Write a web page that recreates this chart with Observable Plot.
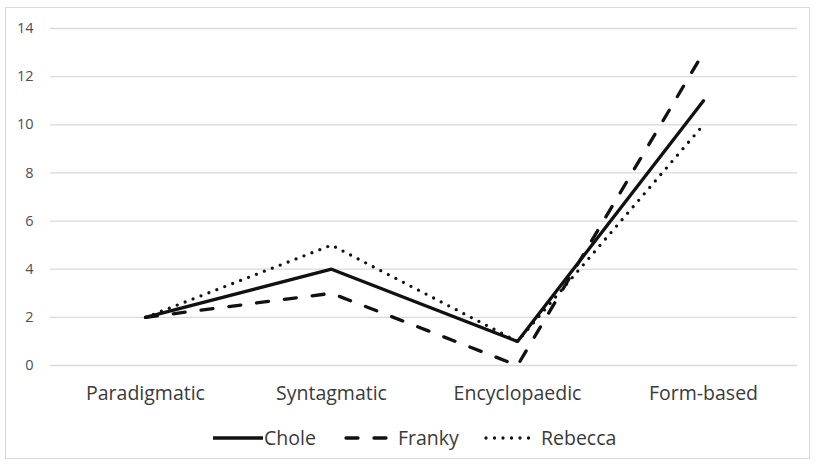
<!DOCTYPE html>
<html>
<head>
<meta charset="utf-8">
<script src="https://cdn.jsdelivr.net/npm/d3@7"></script>
<script src="https://cdn.jsdelivr.net/npm/@observablehq/plot@0.6"></script>
<style>
  html, body { margin: 0; padding: 0; background: #fff; }
  body { width: 816px; height: 465px; position: relative; overflow: hidden; font-family: "Open Sans", sans-serif; }
  #frame { position: absolute; left: 5px; top: 7px; width: 805px; height: 452px; border: 1px solid #d9d9d9; box-sizing: border-box; }
  #chart { position: absolute; left: 0; top: 0; }
  #legend { position: absolute; left: 0; top: 420px; }
</style>
</head>
<body>
<div id="frame"></div>
<div id="chart"></div>
<div id="legend"></div>
<script>
const categories = ["Paradigmatic", "Syntagmatic", "Encyclopaedic", "Form-based"];
const seriesNames = ["Chole", "Franky", "Rebecca"];
const chole = [2, 4, 1, 11];
const franky = [2, 3, 0, 13];
const rebecca = [2, 5, 1, 10];
const yTicks = [0, 2, 4, 6, 8, 10, 12, 14];

const styles = {
  Chole: {dash: null, cap: "round"},
  Franky: {dash: "12,16", cap: "round"},
  Rebecca: {dash: "0,8.5", cap: "round"}
};
const values = {Chole: chole, Franky: franky, Rebecca: rebecca};
const data = seriesNames.flatMap(s => categories.map((c, i) => ({series: s, category: c, value: values[s][i]})));
const lineColor = "#111";
const sw = 3.3;
const textColor = "#3a3a3a";

const chart = Plot.plot({
  width: 816,
  height: 410,
  marginLeft: 50,
  marginRight: 19,
  marginTop: 28,
  marginBottom: 45,
  style: {fontFamily: "Open Sans, sans-serif", background: "transparent", overflow: "visible"},
  x: {type: "point", domain: categories, padding: 0.5, label: null},
  y: {domain: [0, 14], label: null},
  marks: [
    Plot.gridY(yTicks, {stroke: "#d9d9d9", strokeOpacity: 1, strokeWidth: 1.3}),
    Plot.axisY(yTicks, {tickSize: 0, tickPadding: 17, fontSize: 14.5, fill: "#505050", label: null}),
    Plot.axisX({tickSize: 0, tickPadding: 21, fontSize: 19.5, fill: textColor, label: null}),
    ...seriesNames.map(s => Plot.line(data.filter(d => d.series === s), {
      x: "category", y: "value",
      stroke: lineColor, strokeWidth: sw,
      strokeDasharray: styles[s].dash,
      strokeLinecap: styles[s].cap,
      strokeLinejoin: "round"
    }))
  ]
});
document.getElementById("chart").appendChild(chart);

// Legend
const lg = d3.select("#legend").append("svg").attr("width", 816).attr("height", 40)
  .style("font-family", "Open Sans, sans-serif");
const legendItems = [
  {name: "Chole", x0: 213, x1: 263, tx: 264},
  {name: "Franky", x0: 346, x1: 389, tx: 398},
  {name: "Rebecca", x0: 486, x1: 531, tx: 541}
];
legendItems.forEach(it => {
  const st = styles[it.name];
  lg.append("line").attr("x1", it.x0).attr("x2", it.x1).attr("y1", 18).attr("y2", 18)
    .attr("stroke", lineColor).attr("stroke-width", sw)
    .attr("stroke-dasharray", st.dash)
    .attr("stroke-linecap", it.name === "Chole" ? "butt" : st.cap);
  lg.append("text").attr("x", it.tx).attr("y", 18).attr("dy", "0.35em")
    .attr("font-size", 19.5).attr("fill", textColor).text(it.name);
});
</script>
</body>
</html>
